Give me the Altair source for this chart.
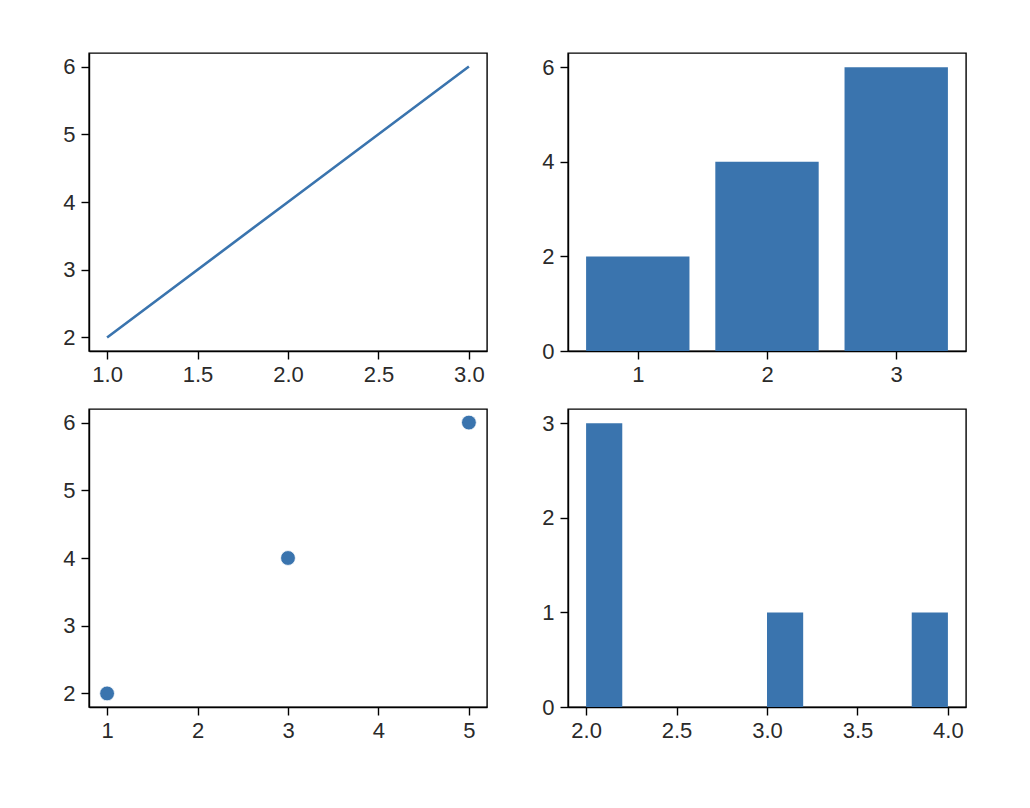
import altair as alt
import pandas as pd

# Top-left: line
line_x = [1, 2, 3]
line_y = [2, 4, 6]
# Top-right: bar
bar_cat = [1, 2, 3]
bar_val = [2, 4, 6]
# Bottom-left: scatter
sc_x = [1, 3, 5]
sc_y = [2, 4, 6]
# Bottom-right: histogram raw values
hist_vals = [2, 2, 2, 3, 4]

COLOR = "#3a74ae"
W, H = 398, 298
FONT = "Liberation Sans"


def ax(values, orient, fmt=None):
    kw = dict(values=values, title=None, grid=False, ticks=True, tickSize=8,
              tickWidth=1.4, tickColor="#000", domainColor="#000", domainWidth=1.4,
              labelFontSize=22, labelFont=FONT, labelColor="#2a2a2a",
              labelPadding=6 if orient == "y" else 5)
    if fmt:
        kw["format"] = fmt
    return alt.Axis(**kw)


line = alt.Chart(pd.DataFrame({"x": line_x, "y": line_y})).mark_line(
    color=COLOR, strokeWidth=2.6
).encode(
    x=alt.X("x:Q", scale=alt.Scale(domain=[0.9, 3.1], nice=False, zero=False),
            axis=ax([1.0, 1.5, 2.0, 2.5, 3.0], "x", ".1f")),
    y=alt.Y("y:Q", scale=alt.Scale(domain=[1.8, 6.2], nice=False, zero=False),
            axis=ax([2, 3, 4, 5, 6], "y")),
).properties(width=W, height=H)

bars = alt.Chart(pd.DataFrame({"cat": bar_cat, "val": bar_val})).transform_calculate(
    x0="datum.cat - 0.4", x1="datum.cat + 0.4"
).mark_rect(color=COLOR).encode(
    x=alt.X("x0:Q", scale=alt.Scale(domain=[0.46, 3.54], nice=False, zero=False),
            axis=ax([1, 2, 3], "x")),
    x2="x1:Q",
    y=alt.Y("val:Q", scale=alt.Scale(domain=[0, 6.3], nice=False),
            axis=ax([0, 2, 4, 6], "y")),
    y2=alt.datum(0),
).properties(width=W, height=H)

scatter = alt.Chart(pd.DataFrame({"x": sc_x, "y": sc_y})).mark_circle(
    color=COLOR, size=220, opacity=1, stroke="white", strokeWidth=0.8
).encode(
    x=alt.X("x:Q", scale=alt.Scale(domain=[0.8, 5.2], nice=False, zero=False),
            axis=ax([1, 2, 3, 4, 5], "x")),
    y=alt.Y("y:Q", scale=alt.Scale(domain=[1.8, 6.2], nice=False, zero=False),
            axis=ax([2, 3, 4, 5, 6], "y")),
).properties(width=W, height=H)

hist = alt.Chart(pd.DataFrame({"v": hist_vals})).transform_bin(
    as_=["b0", "b1"], field="v", bin=alt.Bin(extent=[2, 4], step=0.2)
).transform_aggregate(
    count="count()", groupby=["b0", "b1"]
).mark_rect(color=COLOR).encode(
    x=alt.X("b0:Q", scale=alt.Scale(domain=[1.9, 4.1], nice=False, zero=False),
            axis=ax([2.0, 2.5, 3.0, 3.5, 4.0], "x", ".1f")),
    x2="b1:Q",
    y=alt.Y("count:Q", scale=alt.Scale(domain=[0, 3.15], nice=False),
            axis=ax([0, 1, 2, 3], "y")),
    y2=alt.datum(0),
).properties(width=W, height=H)

chart = alt.concat(
    line, bars, scatter, hist, columns=2,
    spacing={"row": 58, "column": 81}, bounds="flush"
).properties(
    padding={"left": 54, "top": 44, "right": 20, "bottom": 20},
    background="white",
).configure_view(
    stroke="#000", strokeWidth=1.4
)

chart.save("out.html", embed_options={"renderer": "svg", "actions": False})
